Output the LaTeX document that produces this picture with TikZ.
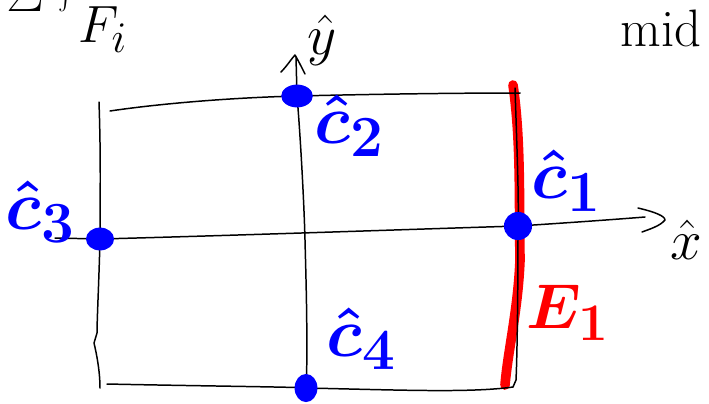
\documentclass[tikz,border=0pt]{standalone}
\usepackage{graphicx}
\usetikzlibrary{arrows.meta}
\definecolor{penblue}{RGB}{0,0,255}
\definecolor{penred}{RGB}{255,0,0}
\newcommand{\bigmath}[2]{\scalebox{#1}{\fontsize{24.88}{28}\selectfont$#2$}}
\begin{document}
\begin{tikzpicture}[x=0.02cm,y=-0.02cm,
  ink/.style={line width=0.85pt, black, line cap=round, line join=round},
  redink/.style={line width=5.5pt, penred, line cap=round, line join=round},
  bluedot/.style={fill=penblue},
  bluelabel/.style={text=penblue, inner sep=0pt, font=\boldmath},
  redlabel/.style={text=penred, inner sep=0pt, font=\boldmath},
  inklabel/.style={text=black, inner sep=0pt}]
\useasboundingbox (0,0) rectangle (709,403);

% frame corners
\coordinate (tl) at (110,111);
\coordinate (tr) at (520,93);
\coordinate (bl) at (107,384);
\coordinate (br) at (513,387);

% dots (the four points)
\coordinate (c1) at (518,226);
\coordinate (c2) at (297,96);
\coordinate (c3) at (100,239);
\coordinate (c4) at (306,388);

% red edge E1 (under black line)
\draw[redink] (513,85) .. controls (521,140) and (519,200) .. (520,260) .. controls (518,310) and (508,350) .. (505,385);

% top edge
\draw[ink] (tl) .. controls (150,105) and (220,98) .. (c2) .. controls (380,94) and (460,93) .. (tr);
% left edge
\draw[ink] (99,102) .. controls (101,160) and (100,200) .. (c3) .. controls (99,280) and (97,320) .. (97,333) -- (94,343) .. controls (98,360) and (100,375) .. (100,388);
% bottom edge
\draw[ink] (bl) .. controls (200,386) and (300,387) .. (c4) .. controls (400,390) and (470,393) .. (br);
% right edge
\draw[ink] (515,88) .. controls (517,150) and (519,200) .. (c1) .. controls (518,300) and (517,360) .. (516,380) -- (br);

% x axis
\coordinate (xend) at (645,217);
\draw[ink] (55,238) -- (c3) .. controls (250,235) and (420,229) .. (c1) .. controls (580,222) and (620,219) .. (xend);
\draw[ink] (638,208) .. controls (655,212) and (665,216) .. (665,220) .. controls (660,226) and (650,229) .. (642,232);

% y axis
\coordinate (yend) at (296,57);
\draw[ink] (306,400) .. controls (308,340) and (306,280) .. (305,240) .. controls (304,200) and (300,130) .. (c2) -- (yend);
\draw[ink] (281,72) .. controls (287,66) and (292,58) .. (295,55) .. controls (298,60) and (302,68) .. (305,74);

% blue dots
\fill[bluedot] (c2) ellipse [x radius=9pt, y radius=6.5pt];
\fill[bluedot] (c3) ellipse [x radius=8pt, y radius=6.5pt];
\fill[bluedot] (c1) ellipse [x radius=8pt, y radius=8pt];
\fill[bluedot] (c4) ellipse [x radius=6.5pt, y radius=8pt];

% labels
\node[bluelabel] (l1) at (567,181) {\bigmath{1.6}{\hat{c}_1}};
\node[bluelabel] (l2) at (350,126) {\bigmath{1.6}{\hat{c}_2}};
\node[bluelabel] (l3) at (41,212) {\bigmath{1.6}{\hat{c}_3}};
\node[bluelabel] (l4) at (362,339) {\bigmath{1.6}{\hat{c}_4}};
\node[redlabel] (e1) at (568,313) {\bigmath{1.45}{E_1}};

\node[inklabel] (xl) at (686,240) {\bigmath{1.3}{\hat{x}}};
\node[inklabel] (yl) at (322,40) {\bigmath{1.3}{\hat{y}}};

% top texts (partly cut off)
\node[inklabel, anchor=base] (sig) at (25,11) {\bigmath{1.3}{\Sigma}};
\node[inklabel, anchor=south] (intg) at (66,14) {\bigmath{1.3}{\int}};
\node[inklabel, anchor=base west] (fi) at (78,42) {\bigmath{1.2}{F_i}};
\node[inklabel, font=\fontsize{30}{34}\selectfont, anchor=base west] (mid) at (620,46) {mid};
\end{tikzpicture}
\end{document}
